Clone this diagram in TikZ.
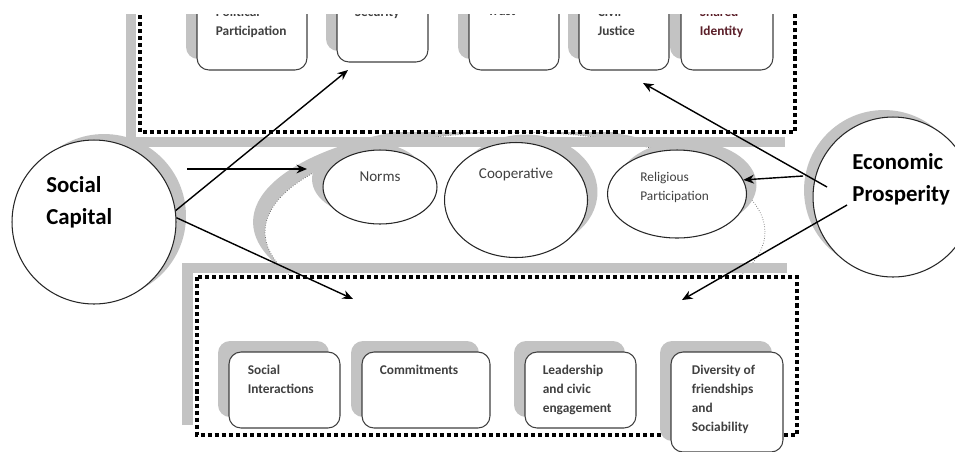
\documentclass[tikz,border=0pt]{standalone}
\usepackage{fontspec}
\setmainfont{Carlito}
\usetikzlibrary{arrows.meta,positioning,shadows,shapes.geometric}

\definecolor{shadowgray}{RGB}{195,195,195}
\definecolor{boxtext}{RGB}{64,64,64}
\definecolor{idred}{RGB}{90,30,40}

\begin{document}
\begin{tikzpicture}[x=0.02cm, y=-0.02cm,
    ghost/.style 2 args={drop shadow={shadow xshift=#1, shadow yshift=#2, opacity=1, fill=shadowgray}},
    linkbox/.style={draw=black!75, semithick, fill=white, rounded corners=0.24cm, inner sep=0pt,
      minimum height=1.52cm, ghost={-0.22cm}{0.22cm}},
    boxtxt/.style={text=boxtext, font=\fontsize{7.6}{10.8}\selectfont\bfseries, align=left, inner sep=0pt},
    oval/.style={ellipse, draw=black!85, semithick, fill=white, inner sep=0pt},
    ovaltxt/.style={text=boxtext, font=\fontsize{8.6}{10.8}\selectfont, align=left, inner sep=0pt},
    hub/.style={circle, draw=black!85, semithick, fill=white, inner sep=0pt},
    hubtxt/.style={font=\fontsize{13}{18}\selectfont\bfseries, align=left, inner sep=0pt},
    framedots/.style={line width=2.3pt, dash pattern=on 2.3pt off 1.7pt},
    band/.style={draw=shadowgray, line width=5.7pt},
    arr/.style={-{Stealth[length=6pt, width=5pt]}, thick},
  ]
  \useasboundingbox (0,0) rectangle (955,451);
  \begin{scope}
  \clip (0,14) rectangle (955,451);

  % big background ellipse behind the three ovals
  \node[ellipse, draw=black!60, densely dotted, fill=white, minimum width=10cm, minimum height=4cm,
    ghost={-0.24cm}{0.2cm}] (netw) at (515,232) {};

  % upper dotted frame
  \draw[band] (131,-20) -- (131,142) -- (785,142);
  \fill[white] (140,-20) rectangle (795,132);
  \draw[framedots] (140,-20) rectangle (795,132);

  % lower dotted frame
  \draw[band] (187.5,425) -- (187.5,267.5) -- (787,267.5);
  \fill[white] (197,277) rectangle (797,435);
  \draw[framedots] (197,277) rectangle (797,435);

  % the two big circles
  \node[hub, minimum size=3.28cm, ghost={0.2cm}{0.12cm}] (scap) at (94,222) {};
  \node[hubtxt, anchor=west] (scapt) at (46,202) {Social\\Capital};
  \node[hub, minimum size=3.2cm, ghost={-0.18cm}{0.14cm}] (econ) at (893,197) {};
  \node[hubtxt, anchor=west] (econt) at (852,179) {Economic\\Prosperity};

  % ovals in the middle
  \node[oval, minimum width=2.28cm, minimum height=1.48cm, ghost={-0.22cm}{0.16cm}] (norms) at (380,187) {};
  \node[ovaltxt] (normst) at (380,177) {Norms};
  \node[oval, minimum width=2.86cm, minimum height=2.3cm, ghost={0.2cm}{0.16cm}] (coop) at (516,200) {};
  \node[ovaltxt] (coopt) at (516,174) {Cooperative};
  \node[oval, minimum width=2.78cm, minimum height=1.76cm, ghost={0.2cm}{0.18cm}] (relig) at (677,194) {};
  \node[ovaltxt, font=\fontsize{7.6}{10.8}\selectfont, anchor=west] (religt) at (640,187.5) {Religious\\Participation};

  % upper boxes
  \node[linkbox, minimum width=2.2cm] (pol) at (252,32) {};
  \node[linkbox, minimum width=1.82cm, minimum height=1.36cm] (sec) at (382.5,28) {};
  \node[linkbox, minimum width=1.8cm] (tru) at (514,32) {};
  \node[linkbox, minimum width=1.8cm] (civ) at (624,32) {};
  \node[linkbox, minimum width=1.84cm] (sha) at (727,32) {};
  \node[boxtxt, below right=0.27cm and 0.38cm of pol.north west] (polt) {Political\\Participation};
  \node[boxtxt, below right=0.27cm and 0.36cm of sec.north west] (sect) {Security};
  \node[boxtxt, below right=0.27cm and 0.38cm of tru.north west] (trut) {Trust};
  \node[boxtxt, below right=0.27cm and 0.38cm of civ.north west] (civt) {Civil\\Justice};
  \node[boxtxt, text=idred, below right=0.27cm and 0.38cm of sha.north west] (shat) {Shared\\Identity};

  % lower boxes
  \node[linkbox, minimum width=2.22cm] (soc) at (284.5,390) {};
  \node[linkbox, minimum width=2.56cm] (com) at (426,390) {};
  \node[linkbox, minimum width=2.22cm] (lead) at (580.5,390) {};
  \node[linkbox, minimum width=2.24cm, minimum height=2cm] (div) at (727,402) {};
  \node[boxtxt, below right=0.27cm and 0.38cm of soc.north west] (soct) {Social\\Interactions};
  \node[boxtxt, below right=0.27cm and 0.36cm of com.north west] (comt) {Commitments};
  \node[boxtxt, below right=0.27cm and 0.36cm of lead.north west] (leadt) {Leadership\\and civic\\engagement};
  \node[boxtxt, below right=0.27cm and 0.42cm of div.north west] (divt) {Diversity of\\friendships\\and\\Sociability};

  % arrows
  \coordinate (secin) at (348,70);
  \coordinate (normsfrom) at (187,169);
  \coordinate (normsin) at (307,169);
  \coordinate (lowin) at (353,299);
  \coordinate (econa) at (827,187);
  \coordinate (civin) at (643,83);
  \coordinate (econb) at (803,176);
  \coordinate (econc) at (847,205);
  \coordinate (lowin2) at (682,300);
  \draw[arr] (scap.8) -- (secin);
  \draw[arr] (normsfrom) -- (normsin);
  \draw[arr] (scap.3) -- (lowin);
  \draw[arr] (econa) -- (civin);
  \draw[arr] (econb) -- (relig.12);
  \draw[arr] (econc) -- (lowin2);
  \end{scope}
\end{tikzpicture}
\end{document}
